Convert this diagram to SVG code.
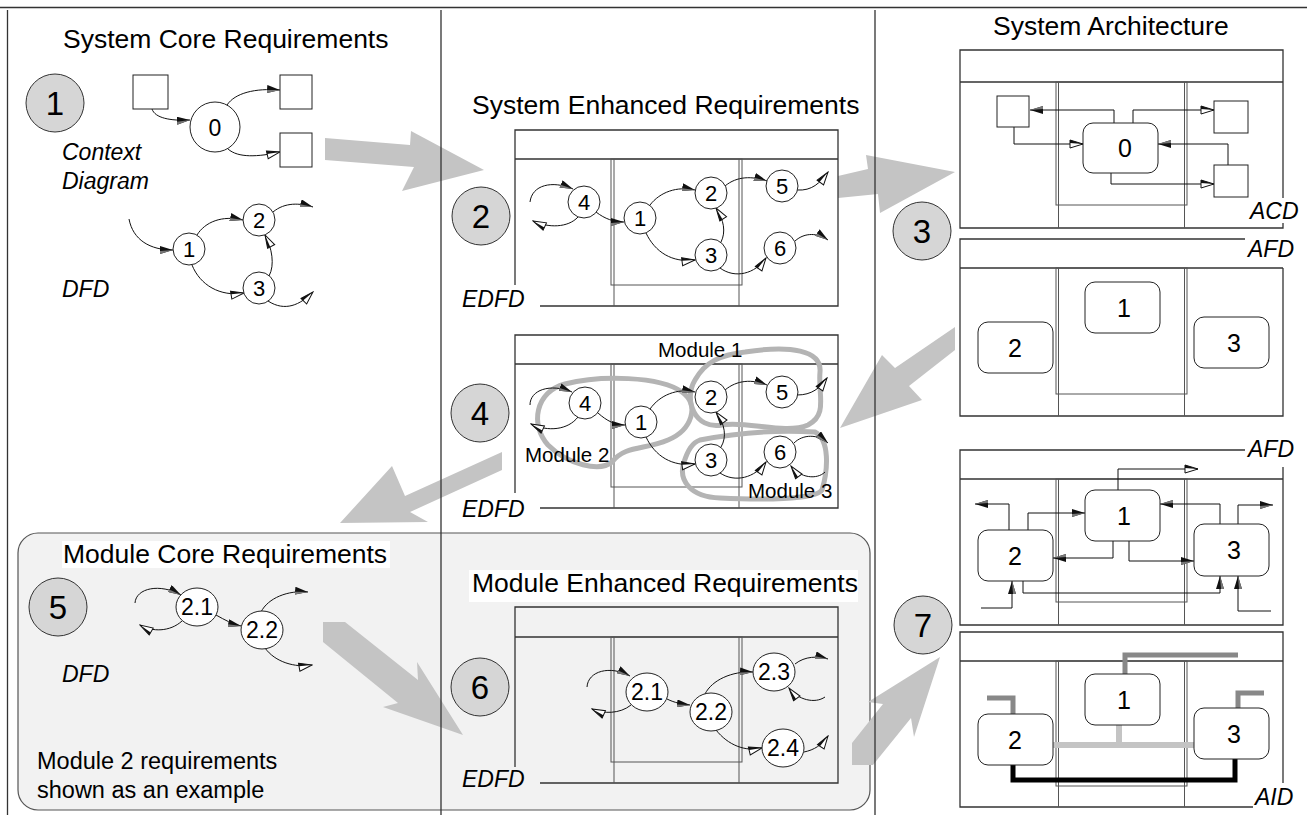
<svg xmlns="http://www.w3.org/2000/svg" width="1307" height="815" viewBox="0 0 1307 815">
<style>
.fr{fill:none;stroke:#333;stroke-width:1.3}
.in{fill:none;stroke:#555;stroke-width:1}
.cn{fill:none;stroke:#111;stroke-width:1}
.nd{fill:#fff;stroke:#222;stroke-width:1}
.bx{fill:#fff;stroke:#222;stroke-width:1}
.num{fill:#d6d6d6;stroke:#333;stroke-width:1}
.t{font-family:"Liberation Sans",Arial,sans-serif;fill:#000}
.ti{font-size:26.5px}
.it{font-style:italic;font-size:23px}
.nl{font-size:22px;text-anchor:middle}
.nl2{font-size:23px;text-anchor:middle}
.bl{font-size:25px;text-anchor:middle}
.cl{font-size:33px;text-anchor:middle}
.md{font-size:20.5px}
.ga{fill:#c4c4c4}
.blob{fill:none;stroke:#b4b4b4;stroke-width:5;stroke-linejoin:round}
.dv{fill:none;stroke:#333;stroke-width:1.3}
</style>
<defs>
<marker id="af" viewBox="0 0 13 8" refX="13" refY="4" markerWidth="13" markerHeight="8" orient="auto" markerUnits="userSpaceOnUse">
<path d="M0,0 L13,4 L0,8 Z" fill="#111"/>
<path d="M0,5 L13,4 L0,8 Z" fill="#777"/>
</marker>
<marker id="ah" viewBox="-1 -1 15 10" refX="13" refY="4" markerWidth="15" markerHeight="10" orient="auto" markerUnits="userSpaceOnUse">
<path d="M0,0 L13,4 L0,8 Z" fill="#fff" stroke="#111" stroke-width="1"/>
<path d="M0,0 L13,4 L0,3 Z" fill="#111"/>
</marker>
</defs>
<rect width="1307" height="815" fill="#fff"/>

<!-- module panel background -->
<rect id="module-panel" x="18" y="533" width="852" height="277" rx="20" fill="#f2f2f2" stroke="#555" stroke-width="1.2"/>

<!-- big gray flow arrows -->
<g id="flow-arrows">
<polygon class="ga" points="325,138 410,145 411,131 484,170 402,191 414,167 325,160"/>
<polygon class="ga" points="838,176 868,169 866,155 955,172 880,213 878,194 838,198"/>
<polygon class="ga" points="955,327 955,350 909,386 922,400 840,428 882,355 895,368"/>
<polygon class="ga" points="502,452 502,470 410,512 428,522 340,523 392,466 405,496"/>
<polygon class="ga" points="323,622 345,622 418,680 417,662 463,735 383,707 398,703 323,642"/>
<polygon class="ga" points="852,743 883,704 868,702 940,657 914,737 911,718 873,765 852,765"/>
</g>

<!-- page borders and dividers -->
<g id="borders">
<path class="dv" d="M0,7.5 H1307 M7.5,10 V815 M441,10 V815 M875,10 V815"/>
</g>

<!-- frames -->
<g id="frame-edfd1">
<path class="fr" d="M515,285 V130 H838 V306 H540 M515,159 H838"/>
<rect class="in" x="611" y="159" width="131" height="126"/>
<path class="in" d="M614,159 V306 M739,159 V306"/>
</g>
<g id="frame-edfd2">
<path class="fr" d="M515,493 V335 H838 V508 H540 M515,364 H838"/>
<rect class="in" x="611" y="364" width="131" height="123"/>
<path class="in" d="M614,364 V508 M739,364 V508"/>
</g>
<g id="frame-edfd3">
<path class="fr" d="M515,767 V607 H838 V783 H540 M515,637 H838"/>
<rect class="in" x="611" y="637" width="131" height="125"/>
<path class="in" d="M614,637 V783 M739,637 V783"/>
</g>
<g id="frame-acd">
<path class="fr" d="M960,50 H1283 V228 H960 Z M960,82 H1283"/>
<rect class="in" x="1056" y="82" width="131" height="123"/>
<path class="in" d="M1058.5,82 V228 M1184.5,82 V228"/>
<rect x="1246" y="198" width="54" height="25" fill="#fff"/>
<text class="t it" x="1250" y="219">ACD</text>
</g>
<g id="frame-afd1">
<path class="fr" d="M1245,239 H960 V416 H1283 V268 M960,268 H1283"/>
<rect class="in" x="1056" y="268" width="131" height="126"/>
<path class="in" d="M1058.5,268 V416 M1184.5,268 V416"/>
<text class="t it" x="1248" y="257">AFD</text>
</g>
<g id="frame-afd2">
<path class="fr" d="M1245,450 H960 V625 H1283 V467 M960,479 H1283"/>
<rect class="in" x="1056" y="479" width="131" height="123"/>
<path class="in" d="M1058.5,479 V625 M1184.5,479 V625"/>
<text class="t it" x="1248" y="457">AFD</text>
</g>
<g id="frame-aid">
<path class="fr" d="M1253,807 H960 V632 H1283 V783 M960,661 H1283"/>
<rect class="in" x="1056" y="661" width="131" height="125"/>
<path class="in" d="M1058.5,661 V807 M1184.5,661 V807"/>
<text class="t it" x="1255" y="805">AID</text>
</g>

<!-- module blobs -->
<g id="module-blobs">
<path class="blob" d="M548,445 C530,425 535,392 565,384 C600,375 660,376 682,392 C700,405 692,430 668,440 C645,450 625,445 612,462 C600,472 568,465 548,445 Z"/>
<path class="blob" d="M745,352 C790,345 822,350 820,372 C818,395 828,415 808,425 C785,435 745,420 722,425 C695,430 683,400 695,380 C705,362 720,355 745,352 Z"/>
<path class="blob" d="M700,440 C740,432 780,430 815,432 C830,440 828,470 822,490 C815,500 760,500 720,498 C690,497 678,480 684,462 C688,450 692,443 700,440 Z"/>
</g>

<!-- AID interconnect lines -->
<g id="aid-links" fill="none">
<path d="M1125,674 V655 H1238 M1013,714 V698 H987 M1238,708 V693 H1264" stroke="#888" stroke-width="5"/>
<path d="M1053,745 H1194 M1119,725 V745" stroke="#c4c4c4" stroke-width="6"/>
<path d="M1013,765 V780 H1235 V759" stroke="#000" stroke-width="5"/>
</g>

<!-- connectors -->
<g id="connectors">
<path class="cn" d="M152,109 C155,118 170,121 190,120" marker-end="url(#af)"/>
<path class="cn" d="M227,105 C235,93 255,88 280,90" marker-end="url(#af)"/>
<path class="cn" d="M228,149 C238,158 258,157 280,152" marker-end="url(#ah)"/>
<path class="cn" d="M129,219 C133,240 150,250 173,250" marker-end="url(#af)"/>
<path class="cn" d="M197,235 C205,222 222,215 243,220" marker-end="url(#af)"/>
<path class="cn" d="M192,265 C200,285 220,297 244,293" marker-end="url(#ah)"/>
<path class="cn" d="M269,276 C275,265 272,248 265,235" marker-end="url(#ah)"/>
<path class="cn" d="M273,212 C285,202 300,203 313,207" marker-end="url(#af)"/>
<path class="cn" d="M268,301 C285,312 300,305 313,292" marker-end="url(#ah)"/>
<path class="cn" d="M530,202 C532,185 552,180 573,189" marker-end="url(#af)"/>
<path class="cn" d="M578,217 C568,228 548,228 533,221" marker-end="url(#ah)"/>
<path class="cn" d="M596,212 C605,219 614,222 624,222" marker-end="url(#af)"/>
<path class="cn" d="M650,205 C660,192 677,186 695,190" marker-end="url(#af)"/>
<path class="cn" d="M646,233 C655,252 672,263 695,260" marker-end="url(#ah)"/>
<path class="cn" d="M721,242 C726,232 724,220 716,208" marker-end="url(#ah)"/>
<path class="cn" d="M725,186 C737,176 752,176 767,181" marker-end="url(#af)"/>
<path class="cn" d="M797,190 C812,191 820,183 828,172" marker-end="url(#ah)"/>
<path class="cn" d="M720,268 C735,279 755,274 766,258" marker-end="url(#ah)"/>
<path class="cn" d="M795,241 C805,232 818,233 828,240" marker-end="url(#af)"/>
<path class="cn" d="M530,405 C530,390 550,383 572,392" marker-end="url(#af)"/>
<path class="cn" d="M578,417 C568,430 548,432 531,424" marker-end="url(#ah)"/>
<path class="cn" d="M598,413 C607,421 615,425 625,425" marker-end="url(#af)"/>
<path class="cn" d="M650,409 C660,395 677,388 695,392" marker-end="url(#af)"/>
<path class="cn" d="M646,437 C655,456 672,467 695,464" marker-end="url(#ah)"/>
<path class="cn" d="M721,447 C727,437 725,424 716,412" marker-end="url(#ah)"/>
<path class="cn" d="M725,390 C737,380 752,379 767,385" marker-end="url(#af)"/>
<path class="cn" d="M797,395 C812,395 820,388 827,378" marker-end="url(#ah)"/>
<path class="cn" d="M720,473 C735,483 755,478 766,462" marker-end="url(#ah)"/>
<path class="cn" d="M794,443 C803,434 818,434 828,443" marker-end="url(#af)"/>
<path class="cn" d="M825,472 C817,480 800,478 791,466" marker-end="url(#ah)"/>
<path class="cn" d="M135,603 C136,588 160,583 181,595" marker-end="url(#af)"/>
<path class="cn" d="M182,621 C170,632 152,632 140,625" marker-end="url(#ah)"/>
<path class="cn" d="M216,615 C225,620 232,624 241,626" marker-end="url(#af)"/>
<path class="cn" d="M261,612 C268,598 288,590 308,592" marker-end="url(#af)"/>
<path class="cn" d="M265,648 C275,662 295,668 312,665" marker-end="url(#ah)"/>
<path class="cn" d="M587,687 C588,671 610,665 630,676" marker-end="url(#af)"/>
<path class="cn" d="M631,705 C620,714 603,714 592,709" marker-end="url(#ah)"/>
<path class="cn" d="M667,699 C675,703 682,704 690,705" marker-end="url(#af)"/>
<path class="cn" d="M705,694 C712,680 732,671 753,672" marker-end="url(#af)"/>
<path class="cn" d="M716,730 C728,745 745,752 762,748" marker-end="url(#ah)"/>
<path class="cn" d="M795,664 C805,656 818,656 828,659" marker-end="url(#af)"/>
<path class="cn" d="M825,697 C815,704 798,700 789,688" marker-end="url(#ah)"/>
<path class="cn" d="M804,752 C814,750 822,745 828,736" marker-end="url(#ah)"/>
<path class="cn" d="M1114,123 V110 H1030" marker-end="url(#af)"/>
<path class="cn" d="M1133,123 V110 H1214" marker-end="url(#ah)"/>
<path class="cn" d="M1014,127 V144 H1083" marker-end="url(#ah)"/>
<path class="cn" d="M1228,165 V144 H1158" marker-end="url(#af)"/>
<path class="cn" d="M1111,173 V184 H1214" marker-end="url(#ah)"/>
<path class="cn" d="M1118,490 V469 H1198" marker-end="url(#ah)"/>
<path class="cn" d="M1009,530 V504 H975" marker-end="url(#af)"/>
<path class="cn" d="M1028,530 V513 H1085" marker-end="url(#af)"/>
<path class="cn" d="M1113,541 V558 H1053" marker-end="url(#af)"/>
<path class="cn" d="M1129,541 V561 H1194" marker-end="url(#af)"/>
<path class="cn" d="M1220,524 V504 H1160" marker-end="url(#af)"/>
<path class="cn" d="M1238,524 V505 H1273" marker-end="url(#af)"/>
<path class="cn" d="M1023,581 V593 H1220 V576" marker-end="url(#af)"/>
<path class="cn" d="M981,608 H1012 V581" marker-end="url(#af)"/>
<path class="cn" d="M1271,611 H1238 V576" marker-end="url(#af)"/>
</g>

<!-- step circles -->
<g id="step1"><circle class="num" cx="55" cy="103" r="29"/><text class="t cl" x="55" y="115">1</text></g>
<g id="step2"><circle class="num" cx="481" cy="216" r="29"/><text class="t cl" x="481" y="228">2</text></g>
<g id="step3"><circle class="num" cx="922" cy="231" r="29"/><text class="t cl" x="922" y="243">3</text></g>
<g id="step4"><circle class="num" cx="480" cy="413" r="29"/><text class="t cl" x="480" y="425">4</text></g>
<g id="step5"><circle class="num" cx="58" cy="607" r="29"/><text class="t cl" x="58" y="619">5</text></g>
<g id="step6"><circle class="num" cx="480" cy="687" r="29"/><text class="t cl" x="480" y="699">6</text></g>
<g id="step7"><circle class="num" cx="923" cy="625" r="29"/><text class="t cl" x="923" y="637">7</text></g>

<!-- panel 1 nodes -->
<g id="p1-ext1"><rect class="bx" x="133" y="75" width="35" height="34"/></g>
<g id="p1-ext2"><rect class="bx" x="280" y="75" width="32" height="34"/></g>
<g id="p1-ext3"><rect class="bx" x="280" y="133" width="32" height="34"/></g>
<g id="p1-n0"><circle class="nd" cx="215" cy="127" r="25"/><text class="t" font-size="23" text-anchor="middle" x="215" y="135.5">0</text></g>
<g id="p1-n1"><circle class="nd" cx="189" cy="249" r="16"/><text class="t nl" x="189" y="257">1</text></g>
<g id="p1-n2"><circle class="nd" cx="259" cy="220" r="16"/><text class="t nl" x="259" y="228">2</text></g>
<g id="p1-n3"><circle class="nd" cx="259" cy="288" r="16"/><text class="t nl" x="259" y="296">3</text></g>

<!-- panel 2 nodes -->
<g id="p2-n4"><circle class="nd" cx="584" cy="202" r="16"/><text class="t nl" x="584" y="210">4</text></g>
<g id="p2-n1"><circle class="nd" cx="640" cy="218" r="16"/><text class="t nl" x="640" y="226">1</text></g>
<g id="p2-n2"><circle class="nd" cx="711" cy="193" r="16"/><text class="t nl" x="711" y="201">2</text></g>
<g id="p2-n3"><circle class="nd" cx="711" cy="255" r="16"/><text class="t nl" x="711" y="263">3</text></g>
<g id="p2-n5"><circle class="nd" cx="782" cy="186" r="16"/><text class="t nl" x="782" y="194">5</text></g>
<g id="p2-n6"><circle class="nd" cx="780" cy="248" r="16"/><text class="t nl" x="780" y="256">6</text></g>

<!-- panel 4 nodes -->
<g id="p4-n4"><circle class="nd" cx="585" cy="403" r="16"/><text class="t nl" x="585" y="411">4</text></g>
<g id="p4-n1"><circle class="nd" cx="641" cy="422" r="16"/><text class="t nl" x="641" y="430">1</text></g>
<g id="p4-n2"><circle class="nd" cx="711" cy="397" r="16"/><text class="t nl" x="711" y="405">2</text></g>
<g id="p4-n3"><circle class="nd" cx="711" cy="460" r="16"/><text class="t nl" x="711" y="468">3</text></g>
<g id="p4-n5"><circle class="nd" cx="782" cy="392" r="16"/><text class="t nl" x="782" y="400">5</text></g>
<g id="p4-n6"><circle class="nd" cx="780" cy="452" r="16"/><text class="t nl" x="780" y="460">6</text></g>

<!-- panel 5 nodes -->
<g id="p5-n21"><ellipse class="nd" cx="197" cy="607" rx="21" ry="19"/><text class="t nl2" x="197" y="615">2.1</text></g>
<g id="p5-n22"><ellipse class="nd" cx="262" cy="630" rx="21" ry="19"/><text class="t nl2" x="262" y="638">2.2</text></g>

<!-- panel 6 nodes -->
<g id="p6-n21"><ellipse class="nd" cx="647" cy="692" rx="21" ry="19"/><text class="t nl2" x="647" y="700">2.1</text></g>
<g id="p6-n22"><ellipse class="nd" cx="711" cy="712" rx="21" ry="19"/><text class="t nl2" x="711" y="720">2.2</text></g>
<g id="p6-n23"><ellipse class="nd" cx="774" cy="672" rx="21" ry="19"/><text class="t nl2" x="774" y="680">2.3</text></g>
<g id="p6-n24"><ellipse class="nd" cx="783" cy="748" rx="21" ry="19"/><text class="t nl2" x="783" y="756">2.4</text></g>

<!-- ACD nodes -->
<g id="acd-ext1"><rect class="bx" x="997" y="96" width="32" height="31"/></g>
<g id="acd-ext2"><rect class="bx" x="1214" y="101" width="34" height="32"/></g>
<g id="acd-ext3"><rect class="bx" x="1214" y="165" width="34" height="32"/></g>
<g id="acd-n0"><rect class="bx" x="1083" y="123" width="75" height="50" rx="10"/><text class="t bl" x="1125" y="157">0</text></g>

<!-- AFD1 nodes -->
<g id="afd1-n1"><rect class="bx" x="1085" y="282" width="75" height="51" rx="10"/><text class="t bl" x="1124" y="317">1</text></g>
<g id="afd1-n2"><rect class="bx" x="978" y="322" width="75" height="51" rx="10"/><text class="t bl" x="1015" y="357">2</text></g>
<g id="afd1-n3"><rect class="bx" x="1194" y="317" width="75" height="51" rx="10"/><text class="t bl" x="1234" y="352">3</text></g>

<!-- AFD2 nodes -->
<g id="afd2-n1"><rect class="bx" x="1085" y="490" width="75" height="51" rx="10"/><text class="t bl" x="1124" y="525">1</text></g>
<g id="afd2-n2"><rect class="bx" x="978" y="530" width="75" height="51" rx="10"/><text class="t bl" x="1015" y="565">2</text></g>
<g id="afd2-n3"><rect class="bx" x="1194" y="524" width="75" height="52" rx="10"/><text class="t bl" x="1234" y="559">3</text></g>

<!-- AID nodes -->
<g id="aid-n1"><rect class="bx" x="1085" y="674" width="75" height="51" rx="10"/><text class="t bl" x="1124" y="709">1</text></g>
<g id="aid-n2"><rect class="bx" x="978" y="714" width="75" height="51" rx="10"/><text class="t bl" x="1015" y="749">2</text></g>
<g id="aid-n3"><rect class="bx" x="1194" y="708" width="75" height="51" rx="10"/><text class="t bl" x="1234" y="743">3</text></g>

<!-- titles and labels -->
<g id="labels">
<text class="t ti" x="63" y="48">System Core Requirements</text>
<text class="t ti" x="472" y="114">System Enhanced Requirements</text>
<text class="t ti" x="993" y="35">System Architecture</text>
<rect x="62" y="541" width="328" height="27" fill="#fff"/>
<text class="t ti" x="63" y="563">Module Core Requirements</text>
<rect x="469" y="570" width="389" height="32" fill="#fff"/>
<text class="t ti" x="472" y="592">Module Enhanced Requirements</text>
<text class="t it" x="62" y="160">Context</text>
<text class="t it" x="62" y="189">Diagram</text>
<text class="t it" x="62" y="297">DFD</text>
<text class="t it" x="462" y="307">EDFD</text>
<text class="t it" x="462" y="517">EDFD</text>
<text class="t it" x="462" y="787">EDFD</text>
<text class="t it" x="62" y="682">DFD</text>
<text class="t md" x="658" y="357">Module 1</text>
<text class="t md" x="525" y="462">Module 2</text>
<text class="t md" x="748" y="498">Module 3</text>
<text class="t" font-size="23.5" x="37" y="769">Module 2 requirements</text>
<text class="t" font-size="23.5" x="37" y="798">shown as an example</text>
</g>
</svg>
